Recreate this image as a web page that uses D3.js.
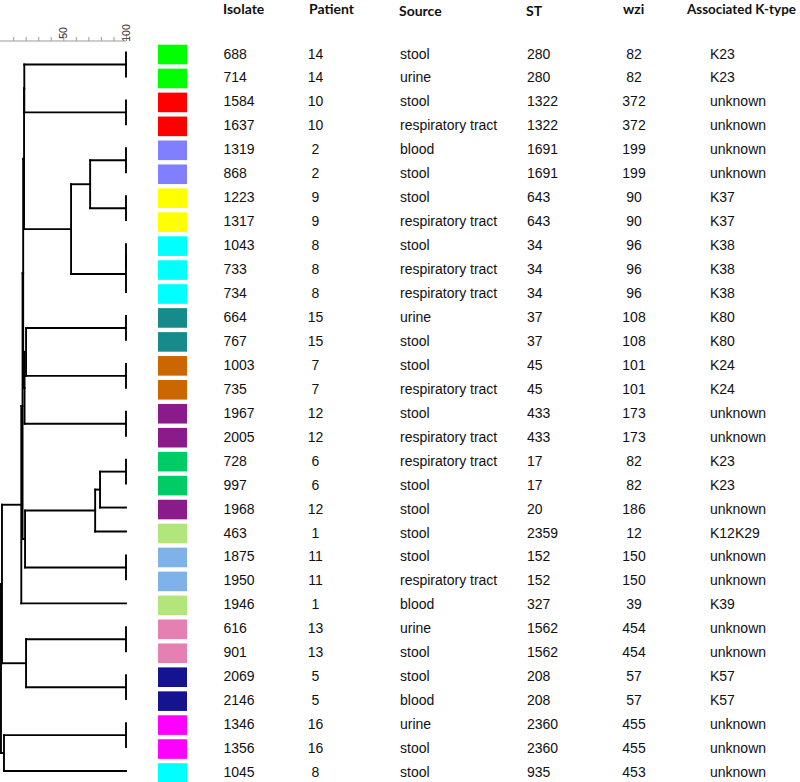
<!DOCTYPE html>
<html>
<head>
<meta charset="utf-8">
<script src="https://cdn.jsdelivr.net/npm/d3@7"></script>
<style>
  html, body { margin: 0; padding: 0; background: #fff; }
  svg { display: block; }
</style>
</head>
<body>
<div id="chart"></div>
<script>
// ---------------- DATA ----------------
const isolates = ["688","714","1584","1637","1319","868","1223","1317","1043","733","734","664","767","1003","735","1967","2005","728","997","1968","463","1875","1950","1946","616","901","2069","2146","1346","1356","1045"];
const patients = [14,14,10,10,2,2,9,9,8,8,8,15,15,7,7,12,12,6,6,12,1,11,11,1,13,13,5,5,16,16,8];
const sources = ["stool","urine","stool","respiratory tract","blood","stool","stool","respiratory tract","stool","respiratory tract","respiratory tract","urine","stool","stool","respiratory tract","stool","respiratory tract","respiratory tract","stool","stool","stool","stool","respiratory tract","blood","urine","stool","stool","blood","urine","stool","stool"];
const sts = [280,280,1322,1322,1691,1691,643,643,34,34,34,37,37,45,45,433,433,17,17,20,2359,152,152,327,1562,1562,208,208,2360,2360,935];
const wzis = [82,82,372,372,199,199,90,90,96,96,96,108,108,101,101,173,173,82,82,186,12,150,150,39,454,454,57,57,455,455,453];
const ktypes = ["K23","K23","unknown","unknown","unknown","unknown","K37","K37","K38","K38","K38","K80","K80","K24","K24","unknown","unknown","K23","K23","unknown","K12K29","unknown","unknown","K39","unknown","unknown","K57","K57","unknown","unknown","unknown"];
const headers = ["Isolate","Patient","Source","ST","wzi","Associated K-type"];

const patientIds    = [14, 10, 2, 9, 8, 15, 7, 12, 6, 1, 11, 13, 5, 16];
const patientColors = ["#00ff00","#ff0000","#8080ff","#ffff00","#00ffff","#178b8b","#cc6600","#8b1a8b","#00cc66","#b3e67a","#7eb2e8","#e680b3","#141491","#ff00ff"];

const scaleTicks = [10,20,30,40,50,60,70,80,90,100];
const scaleLabels = [50,100];

// dendrogram: node(similarity, children...) ; leaves are row indices
function node(s, ...c) { return { s, c }; }
const dendrogram =
  node(0.3,
    node(1.1,
      node(16.5,
        node(17.5,
          node(18.0,
            node(18.7,
              node(18.9, node(100,0,1), node(100,2,3)),
              node(56.2,
                node(71.4, node(100,4,5), node(100,6,7)),
                node(100, node(100,8,9), 10))),
            node(19.1,
              node(20.3, node(100,11,12), node(100,13,14)),
              node(100,15,16))),
          node(19.5,
            node(75.4,
              node(79.3, node(100,17,18), 19),
              20),
            node(100,21,22))),
        23),
      node(20.3, node(100,24,25), node(100,26,27))),
    node(2.7, node(100,28,29), 30));

// ---------------- CHART ----------------
const W = 800, H = 782;
const svg = d3.select("#chart").append("svg").attr("width", W).attr("height", H);

const xSim = d3.scaleLinear().domain([0,100]).range([0.6,126]);
const yRow = d3.scaleLinear().domain([0, isolates.length - 1]).range([52.5, 771]);
const color = d3.scaleOrdinal().domain(patientIds).range(patientColors);

// scale axis
const axisG = svg.append("g").attr("transform", "translate(0,41)");
axisG.call(d3.axisTop(xSim).tickValues(scaleTicks).tickSizeInner(4).tickSizeOuter(0).tickFormat(""));
axisG.select(".domain").attr("stroke", "#9a9a9a").attr("stroke-width", 1).attr("d", `M${xSim(0)-0.6},0H${xSim(100)}`);
axisG.selectAll(".tick line").attr("stroke", "#9a9a9a")
  .attr("y2", d => scaleLabels.includes(d) ? -7 : -4);
axisG.selectAll(".tick text").remove();
axisG.selectAll(".lbl").data(scaleLabels).enter().append("text")
  .attr("class","lbl")
  .attr("transform", d => `translate(${xSim(d)+3.8},-8) rotate(-90)`)
  .attr("font-family", "Liberation Sans, Arial, sans-serif")
  .attr("font-size", 10.5)
  .attr("fill", "#333")
  .text(d => d);

// dendrogram layout
const segs = [];
function layout(n) {
  if (typeof n === "number") return { x: xSim(100), y: yRow(n) };
  const kids = n.c.map(layout);
  const x = xSim(n.s);
  const y = (kids[0].y + kids[kids.length - 1].y) / 2;
  segs.push([x, kids[0].y, x, kids[kids.length - 1].y]);
  kids.forEach(k => { if (k.x - x > 0.01) segs.push([x, k.y, k.x, k.y]); });
  return { x, y };
}
const rootPos = layout(dendrogram);
segs.push([0, rootPos.y, rootPos.x, rootPos.y]);

svg.append("g").selectAll("line").data(segs).enter().append("line")
  .attr("x1", d => d[0]).attr("y1", d => d[1])
  .attr("x2", d => d[2]).attr("y2", d => d[3])
  .attr("stroke", "#000").attr("stroke-width", 1.9).attr("stroke-linecap", "square");

// colour boxes
svg.append("g").selectAll("rect").data(patients).enter().append("rect")
  .attr("x", 158).attr("width", 29)
  .attr("y", (d, i) => yRow(i) - 7.8).attr("height", 19.6)
  .attr("fill", d => color(d));

// table header
const headerPos = [[223,14],[309,14],[399,15.5],[526,16],[623,14],[687,14]];
svg.append("g").selectAll("text").data(headers).enter().append("text")
  .attr("x", (d, i) => headerPos[i][0]).attr("y", (d, i) => headerPos[i][1])
  .attr("font-family", "Lato, 'Open Sans', sans-serif").attr("font-weight", "bold")
  .attr("font-size", (d, i) => i === headers.length - 1 ? 13.4 : 14).attr("fill", "#111")
  .text(d => d);

// table body
const cols = [
  { vals: isolates, x: 223.5, anchor: "start" },
  { vals: patients, x: 315.5, anchor: "middle" },
  { vals: sources,  x: 400,   anchor: "start" },
  { vals: sts,      x: 527,   anchor: "start" },
  { vals: wzis,     x: 634,   anchor: "middle" },
  { vals: ktypes,   x: 710,   anchor: "start" }
];
const body = svg.append("g")
  .attr("font-family", "Liberation Sans, Arial, sans-serif").attr("font-size", 14).attr("fill", "#111");
cols.forEach(col => {
  body.append("g").selectAll("text").data(col.vals).enter().append("text")
    .attr("x", col.x).attr("y", (d, i) => yRow(i) + 6)
    .attr("text-anchor", col.anchor)
    .text(d => d);
});
</script>
</body>
</html>
